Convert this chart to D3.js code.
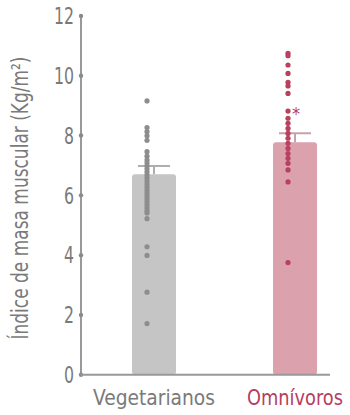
<!DOCTYPE html>
<html>
<head>
<meta charset="utf-8">
<script src="https://cdn.jsdelivr.net/npm/d3@7"></script>
<style>
  html, body { margin: 0; padding: 0; background: #fff; }
  svg { display: block; }
  text { font-family: "Liberation Sans Narrow", "DejaVu Sans Condensed", sans-serif; }
</style>
</head>
<body>
<div id="chart"></div>
<script>
// Groups and summary values (mean and upper error)
const categories = ["Vegetarianos", "Omnívoros"];
const means = [6.71, 7.78];
const errorTops = [6.98, 8.08];

// Individual measurements per group
const vegetarianValues = [9.16, 8.27, 8.13, 7.99, 7.84, 7.46, 7.31,
  7.18, 7.08, 6.98, 6.88, 6.78, 6.68, 6.58, 6.48, 6.38, 6.28, 6.18, 6.08,
  5.98, 5.88, 5.78, 5.68, 5.58, 5.48, 5.41, 5.22, 4.28, 3.99, 2.76, 1.71];
const omnivoreValues = [10.75, 10.67, 10.36, 10.08, 9.78, 9.66, 9.41,
  8.82, 8.58, 8.41, 8.24, 8.07, 7.91, 7.74, 7.57, 7.40, 7.24, 7.07,
  6.85, 6.45, 3.75];

const yTicks = [0, 2, 4, 6, 8, 10, 12];
const yTitle = "Índice de masa muscular (Kg/m²)";

const barColors = ["#c5c5c5", "#dba1ad"];
const dotColors = ["#8d8d8d", "#b9405f"];
const capColors = ["#aeaeae", "#c3a3ab"];
const labelColors = ["#7a7a7a", "#b4405f"];
const labelWidths = [122, 96];

const W = 350, H = 415;
const svg = d3.select("#chart").append("svg").attr("width", W).attr("height", H);

const y = d3.scaleLinear().domain([0, 12]).range([374.7, 16]);
const x = d3.scaleBand().domain(categories).range([81, 330])
  .paddingInner(0.688).paddingOuter(0.227).align(0.797);

const axisColor = "#999";

// Bars
svg.selectAll("rect.bar").data(categories).join("rect")
  .attr("class", "bar")
  .attr("x", d => x(d))
  .attr("y", (d, i) => y(means[i]))
  .attr("width", x.bandwidth())
  .attr("height", (d, i) => y(0) - y(means[i]))
  .attr("rx", 3)
  .attr("fill", (d, i) => barColors[i]);

// Error bars
const cx = d => x(d) + x.bandwidth() / 2;
svg.selectAll("line.err").data(categories).join("line")
  .attr("x1", cx).attr("x2", cx)
  .attr("y1", (d, i) => y(means[i]))
  .attr("y2", (d, i) => y(errorTops[i]))
  .attr("stroke", (d, i) => capColors[i]).attr("stroke-width", 2);
svg.selectAll("line.cap").data(categories).join("line")
  .attr("x1", d => cx(d) - 16).attr("x2", d => cx(d) + 16)
  .attr("y1", (d, i) => y(errorTops[i]))
  .attr("y2", (d, i) => y(errorTops[i]))
  .attr("stroke", (d, i) => capColors[i]).attr("stroke-width", 2);

// Individual points
[vegetarianValues, omnivoreValues].forEach((vals, i) => {
  svg.append("g").selectAll("circle").data(vals).join("circle")
    .attr("cx", cx(categories[i]) - 7)
    .attr("cy", d => y(d))
    .attr("r", 2.6)
    .attr("fill", dotColors[i]);
});

// Significance marker
svg.append("text")
  .attr("x", cx(categories[1]) + 1)
  .attr("y", y(omnivoreValues[7]) + 9)
  .attr("text-anchor", "middle")
  .attr("font-size", 18)
  .attr("fill", dotColors[1])
  .text("*");

// Y axis line and tick dots
svg.append("line")
  .attr("x1", 81).attr("x2", 81)
  .attr("y1", y(12)).attr("y2", y(0))
  .attr("stroke", axisColor).attr("stroke-width", 2);
svg.selectAll("circle.tick").data(yTicks).join("circle")
  .attr("cx", 81).attr("cy", d => y(d)).attr("r", 2.2).attr("fill", "#8a8a8a");
svg.selectAll("text.ytick").data(yTicks).join("text")
  .attr("x", 74).attr("y", d => y(d))
  .attr("dy", "0.36em")
  .attr("text-anchor", "end")
  .attr("font-size", 23)
  .attr("textLength", d => String(d).length * 10)
  .attr("lengthAdjust", "spacingAndGlyphs")
  .attr("fill", "#7a7a7a")
  .text(d => d);

// X axis line
svg.append("line")
  .attr("x1", 81).attr("x2", 330)
  .attr("y1", y(0)).attr("y2", y(0))
  .attr("stroke", axisColor).attr("stroke-width", 2);

// Category labels
svg.selectAll("text.xlab").data(categories).join("text")
  .attr("x", d => cx(d))
  .attr("y", 405)
  .attr("text-anchor", "middle")
  .attr("font-size", 22)
  .attr("textLength", (d, i) => labelWidths[i])
  .attr("lengthAdjust", "spacingAndGlyphs")
  .attr("fill", (d, i) => labelColors[i])
  .text(d => d);

// Y axis title
svg.append("text")
  .attr("transform", "translate(28,198) rotate(-90)")
  .attr("text-anchor", "middle")
  .attr("font-size", 23)
  .attr("textLength", 283)
  .attr("lengthAdjust", "spacingAndGlyphs")
  .attr("fill", "#7a7a7a")
  .text(yTitle);
</script>
</body>
</html>
